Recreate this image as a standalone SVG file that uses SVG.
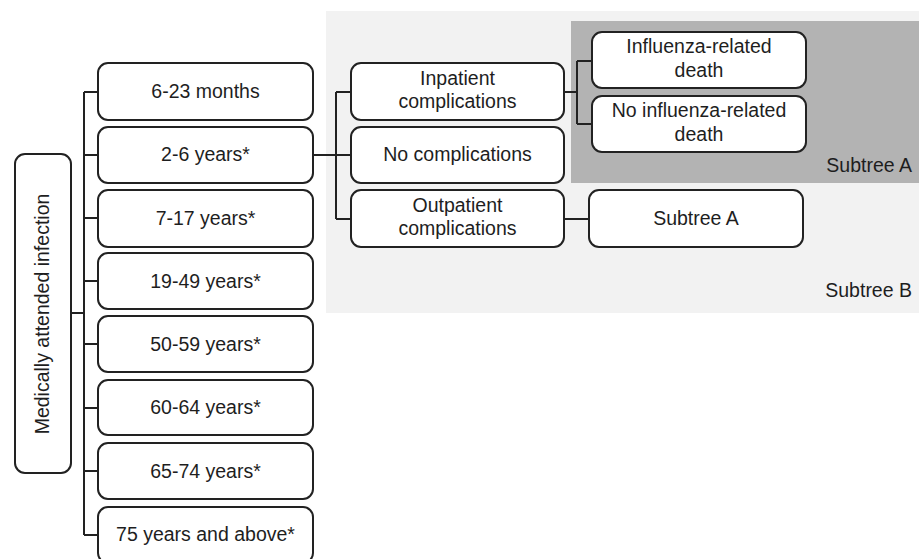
<svg xmlns="http://www.w3.org/2000/svg" width="919" height="559" viewBox="0 0 919 559">
<style>
.box{fill:#fff;stroke:#222;stroke-width:2}
.t{font-family:"Liberation Sans",Arial,sans-serif;font-size:19.5px;fill:#1e1e1e;text-anchor:middle}
.r{font-family:"Liberation Sans",Arial,sans-serif;font-size:19.5px;fill:#1e1e1e;text-anchor:end}
.c{fill:none;stroke:#222;stroke-width:2}
</style>
<rect width="919" height="559" fill="#fff"/>
<g id="subtreeB-bg"><rect x="326" y="11" width="593" height="302" fill="#f2f2f2"/><text class="r" x="912" y="297">Subtree B</text></g>
<g id="subtreeA-bg"><rect x="571" y="21" width="348" height="162" fill="#b3b3b3"/><text class="r" x="912" y="172">Subtree A</text></g>
<g id="connectors">
<path class="c" d="M71 313H84M84 92V535M84 92H98M84 155H98M84 218H98M84 281H98M84 344H98M84 408H98M84 471H98M84 535H98"/>
<path class="c" d="M313 155H336M336 92V219M336 92H351M336 155H351M336 219H351"/>
<path class="c" d="M564 92H577M577 61V124M577 61H592M577 124H592"/>
<path class="c" d="M564 219H589"/>
</g>
<g id="root"><rect class="box" x="15" y="154" width="56" height="319" rx="10"/><text class="t" transform="translate(49,314) rotate(-90)">Medically attended infection</text></g>
<g id="age1"><rect class="box" x="98" y="63" width="215" height="57" rx="10"/><text class="t" x="205.5" y="98">6-23 months</text></g>
<g id="age2"><rect class="box" x="98" y="127" width="215" height="56" rx="10"/><text class="t" x="205.5" y="161">2-6 years*</text></g>
<g id="age3"><rect class="box" x="98" y="190" width="215" height="57" rx="10"/><text class="t" x="205.5" y="225">7-17 years*</text></g>
<g id="age4"><rect class="box" x="98" y="253" width="215" height="56" rx="10"/><text class="t" x="205.5" y="288">19-49 years*</text></g>
<g id="age5"><rect class="box" x="98" y="316" width="215" height="56" rx="10"/><text class="t" x="205.5" y="351">50-59 years*</text></g>
<g id="age6"><rect class="box" x="98" y="380" width="215" height="55" rx="10"/><text class="t" x="205.5" y="414">60-64 years*</text></g>
<g id="age7"><rect class="box" x="98" y="443" width="215" height="56" rx="10"/><text class="t" x="205.5" y="478">65-74 years*</text></g>
<g id="age8"><rect class="box" x="98" y="507" width="215" height="56" rx="10"/><text class="t" x="205.5" y="541">75 years and above*</text></g>
<g id="inpatient"><rect class="box" x="351" y="63" width="213" height="57" rx="10"/><text class="t" x="457.5" y="85">Inpatient</text><text class="t" x="457.5" y="108">complications</text></g>
<g id="nocomp"><rect class="box" x="351" y="127" width="213" height="56" rx="10"/><text class="t" x="457.5" y="161">No complications</text></g>
<g id="outpatient"><rect class="box" x="351" y="190" width="213" height="57" rx="10"/><text class="t" x="457.5" y="212">Outpatient</text><text class="t" x="457.5" y="235">complications</text></g>
<g id="death"><rect class="box" x="592" y="32" width="214" height="56" rx="10"/><text class="t" x="699" y="53">Influenza-related</text><text class="t" x="699" y="77">death</text></g>
<g id="nodeath"><rect class="box" x="592" y="96" width="214" height="56" rx="10"/><text class="t" x="699" y="117">No influenza-related</text><text class="t" x="699" y="141">death</text></g>
<g id="subtreeA"><rect class="box" x="589" y="190" width="214" height="57" rx="10"/><text class="t" x="696" y="225">Subtree A</text></g>
</svg>
